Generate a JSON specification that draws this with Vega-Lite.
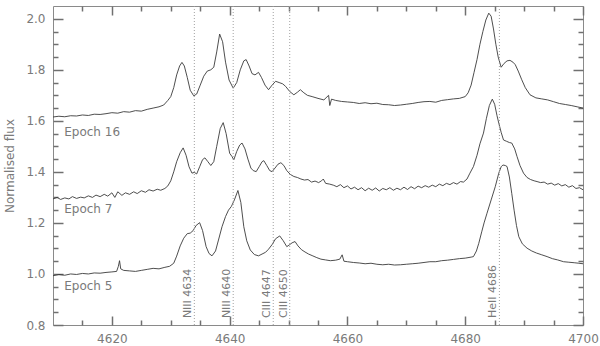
{
  "$schema": "https://vega.github.io/schema/vega-lite/v6.json",
  "width": 530,
  "height": 319,
  "autosize": {"type": "none"},
  "padding": {"left": 53, "top": 6, "right": 17, "bottom": 21},
  "background": "white",
  "config": {
    "view": {"stroke": "#8a8a8a", "strokeWidth": 1, "fill": null},
    "axis": {
      "labelColor": "#7a7a7a",
      "labelFont": "DejaVu Sans",
      "labelFontSize": 12,
      "titleFont": "DejaVu Sans",
      "titleFontSize": 12,
      "titleFontWeight": "normal",
      "titleColor": "#7a7a7a",
      "grid": false,
      "labelFlush": false
    }
  },
  "datasets": {
    "spec": [
      {"e":"16","w":4610.0,"f":1.615},{"e":"16","w":4611.0,"f":1.618},{"e":"16","w":4612.0,"f":1.616},{"e":"16","w":4613.0,"f":1.620},{"e":"16","w":4614.0,"f":1.619},{"e":"16","w":4615.0,"f":1.623},{"e":"16","w":4616.0,"f":1.621},{"e":"16","w":4617.0,"f":1.626},{"e":"16","w":4618.0,"f":1.625},{"e":"16","w":4619.0,"f":1.628},{"e":"16","w":4620.0,"f":1.632},{"e":"16","w":4621.0,"f":1.630},{"e":"16","w":4622.0,"f":1.636},{"e":"16","w":4623.0,"f":1.634},{"e":"16","w":4624.0,"f":1.640},{"e":"16","w":4625.0,"f":1.638},{"e":"16","w":4626.0,"f":1.645},{"e":"16","w":4627.0,"f":1.650},{"e":"16","w":4628.0,"f":1.655},{"e":"16","w":4628.8,"f":1.662},{"e":"16","w":4629.5,"f":1.680},{"e":"16","w":4630.0,"f":1.695},{"e":"16","w":4630.5,"f":1.730},{"e":"16","w":4631.0,"f":1.780},{"e":"16","w":4631.5,"f":1.815},{"e":"16","w":4631.9,"f":1.829},{"e":"16","w":4632.3,"f":1.815},{"e":"16","w":4632.8,"f":1.770},{"e":"16","w":4633.3,"f":1.720},{"e":"16","w":4633.9,"f":1.698},{"e":"16","w":4634.4,"f":1.705},{"e":"16","w":4635.0,"f":1.740},{"e":"16","w":4635.6,"f":1.775},{"e":"16","w":4636.2,"f":1.795},{"e":"16","w":4636.8,"f":1.800},{"e":"16","w":4637.3,"f":1.810},{"e":"16","w":4637.8,"f":1.870},{"e":"16","w":4638.3,"f":1.940},{"e":"16","w":4638.8,"f":1.910},{"e":"16","w":4639.3,"f":1.830},{"e":"16","w":4639.9,"f":1.760},{"e":"16","w":4640.6,"f":1.728},{"e":"16","w":4641.2,"f":1.750},{"e":"16","w":4641.8,"f":1.800},{"e":"16","w":4642.4,"f":1.835},{"e":"16","w":4642.8,"f":1.840},{"e":"16","w":4643.3,"f":1.815},{"e":"16","w":4643.8,"f":1.785},{"e":"16","w":4644.3,"f":1.780},{"e":"16","w":4644.9,"f":1.790},{"e":"16","w":4645.4,"f":1.770},{"e":"16","w":4646.0,"f":1.740},{"e":"16","w":4646.6,"f":1.722},{"e":"16","w":4647.2,"f":1.740},{"e":"16","w":4647.8,"f":1.755},{"e":"16","w":4648.4,"f":1.750},{"e":"16","w":4649.0,"f":1.745},{"e":"16","w":4649.5,"f":1.735},{"e":"16","w":4650.2,"f":1.715},{"e":"16","w":4650.9,"f":1.702},{"e":"16","w":4651.5,"f":1.712},{"e":"16","w":4652.0,"f":1.722},{"e":"16","w":4652.6,"f":1.710},{"e":"16","w":4653.2,"f":1.700},{"e":"16","w":4654.0,"f":1.695},{"e":"16","w":4655.0,"f":1.688},{"e":"16","w":4656.0,"f":1.682},{"e":"16","w":4656.8,"f":1.700},{"e":"16","w":4657.0,"f":1.660},{"e":"16","w":4657.3,"f":1.685},{"e":"16","w":4658.0,"f":1.680},{"e":"16","w":4659.0,"f":1.676},{"e":"16","w":4660.0,"f":1.674},{"e":"16","w":4661.0,"f":1.672},{"e":"16","w":4662.0,"f":1.668},{"e":"16","w":4663.0,"f":1.671},{"e":"16","w":4664.0,"f":1.667},{"e":"16","w":4665.0,"f":1.669},{"e":"16","w":4666.0,"f":1.664},{"e":"16","w":4667.0,"f":1.663},{"e":"16","w":4668.0,"f":1.660},{"e":"16","w":4669.0,"f":1.662},{"e":"16","w":4670.0,"f":1.665},{"e":"16","w":4671.0,"f":1.668},{"e":"16","w":4672.0,"f":1.672},{"e":"16","w":4673.0,"f":1.675},{"e":"16","w":4674.0,"f":1.676},{"e":"16","w":4675.0,"f":1.673},{"e":"16","w":4676.0,"f":1.680},{"e":"16","w":4677.0,"f":1.683},{"e":"16","w":4678.0,"f":1.686},{"e":"16","w":4679.0,"f":1.688},{"e":"16","w":4680.0,"f":1.695},{"e":"16","w":4680.5,"f":1.710},{"e":"16","w":4681.0,"f":1.740},{"e":"16","w":4681.5,"f":1.790},{"e":"16","w":4682.0,"f":1.840},{"e":"16","w":4682.5,"f":1.900},{"e":"16","w":4683.0,"f":1.950},{"e":"16","w":4683.5,"f":1.995},{"e":"16","w":4684.0,"f":2.022},{"e":"16","w":4684.4,"f":2.010},{"e":"16","w":4684.8,"f":1.960},{"e":"16","w":4685.2,"f":1.900},{"e":"16","w":4685.6,"f":1.850},{"e":"16","w":4686.1,"f":1.810},{"e":"16","w":4686.6,"f":1.825},{"e":"16","w":4687.1,"f":1.835},{"e":"16","w":4687.6,"f":1.837},{"e":"16","w":4688.1,"f":1.830},{"e":"16","w":4688.5,"f":1.820},{"e":"16","w":4689.0,"f":1.795},{"e":"16","w":4689.6,"f":1.761},{"e":"16","w":4690.2,"f":1.730},{"e":"16","w":4691.0,"f":1.702},{"e":"16","w":4692.0,"f":1.690},{"e":"16","w":4693.0,"f":1.686},{"e":"16","w":4694.0,"f":1.682},{"e":"16","w":4695.0,"f":1.675},{"e":"16","w":4696.0,"f":1.668},{"e":"16","w":4697.0,"f":1.664},{"e":"16","w":4698.0,"f":1.660},{"e":"16","w":4699.0,"f":1.655},{"e":"16","w":4700.0,"f":1.650},
      {"e":"7","w":4610.0,"f":1.294},{"e":"7","w":4610.7,"f":1.300},{"e":"7","w":4611.3,"f":1.292},{"e":"7","w":4612.0,"f":1.298},{"e":"7","w":4612.7,"f":1.294},{"e":"7","w":4613.3,"f":1.303},{"e":"7","w":4614.0,"f":1.296},{"e":"7","w":4614.7,"f":1.301},{"e":"7","w":4615.3,"f":1.298},{"e":"7","w":4616.0,"f":1.306},{"e":"7","w":4616.7,"f":1.300},{"e":"7","w":4617.3,"f":1.309},{"e":"7","w":4618.0,"f":1.303},{"e":"7","w":4618.7,"f":1.312},{"e":"7","w":4619.3,"f":1.305},{"e":"7","w":4620.0,"f":1.318},{"e":"7","w":4620.5,"f":1.300},{"e":"7","w":4621.0,"f":1.322},{"e":"7","w":4621.7,"f":1.308},{"e":"7","w":4622.3,"f":1.318},{"e":"7","w":4623.0,"f":1.312},{"e":"7","w":4623.7,"f":1.322},{"e":"7","w":4624.3,"f":1.315},{"e":"7","w":4625.0,"f":1.326},{"e":"7","w":4625.7,"f":1.320},{"e":"7","w":4626.3,"f":1.330},{"e":"7","w":4627.0,"f":1.325},{"e":"7","w":4627.7,"f":1.332},{"e":"7","w":4628.3,"f":1.328},{"e":"7","w":4629.0,"f":1.335},{"e":"7","w":4629.5,"f":1.345},{"e":"7","w":4630.0,"f":1.365},{"e":"7","w":4630.5,"f":1.400},{"e":"7","w":4631.0,"f":1.440},{"e":"7","w":4631.6,"f":1.475},{"e":"7","w":4632.1,"f":1.494},{"e":"7","w":4632.6,"f":1.465},{"e":"7","w":4633.1,"f":1.420},{"e":"7","w":4633.6,"f":1.395},{"e":"7","w":4634.0,"f":1.398},{"e":"7","w":4634.4,"f":1.392},{"e":"7","w":4634.9,"f":1.420},{"e":"7","w":4635.4,"f":1.448},{"e":"7","w":4635.8,"f":1.455},{"e":"7","w":4636.3,"f":1.440},{"e":"7","w":4636.8,"f":1.425},{"e":"7","w":4637.3,"f":1.440},{"e":"7","w":4637.8,"f":1.500},{"e":"7","w":4638.4,"f":1.570},{"e":"7","w":4638.9,"f":1.593},{"e":"7","w":4639.4,"f":1.550},{"e":"7","w":4640.0,"f":1.473},{"e":"7","w":4640.4,"f":1.460},{"e":"7","w":4640.7,"f":1.447},{"e":"7","w":4641.2,"f":1.480},{"e":"7","w":4641.7,"f":1.505},{"e":"7","w":4642.1,"f":1.513},{"e":"7","w":4642.6,"f":1.490},{"e":"7","w":4643.1,"f":1.450},{"e":"7","w":4643.6,"f":1.415},{"e":"7","w":4644.0,"f":1.405},{"e":"7","w":4644.5,"f":1.401},{"e":"7","w":4645.0,"f":1.420},{"e":"7","w":4645.5,"f":1.440},{"e":"7","w":4645.8,"f":1.444},{"e":"7","w":4646.3,"f":1.425},{"e":"7","w":4646.8,"f":1.405},{"e":"7","w":4647.2,"f":1.401},{"e":"7","w":4647.7,"f":1.415},{"e":"7","w":4648.2,"f":1.430},{"e":"7","w":4648.7,"f":1.436},{"e":"7","w":4649.2,"f":1.425},{"e":"7","w":4649.7,"f":1.405},{"e":"7","w":4650.3,"f":1.390},{"e":"7","w":4650.9,"f":1.382},{"e":"7","w":4651.5,"f":1.378},{"e":"7","w":4652.1,"f":1.372},{"e":"7","w":4652.7,"f":1.368},{"e":"7","w":4653.3,"f":1.370},{"e":"7","w":4653.9,"f":1.360},{"e":"7","w":4654.5,"f":1.364},{"e":"7","w":4655.1,"f":1.358},{"e":"7","w":4655.6,"f":1.365},{"e":"7","w":4655.9,"f":1.372},{"e":"7","w":4656.3,"f":1.355},{"e":"7","w":4657.0,"f":1.352},{"e":"7","w":4657.6,"f":1.348},{"e":"7","w":4658.2,"f":1.342},{"e":"7","w":4658.8,"f":1.350},{"e":"7","w":4659.4,"f":1.338},{"e":"7","w":4660.0,"f":1.345},{"e":"7","w":4660.6,"f":1.333},{"e":"7","w":4661.2,"f":1.340},{"e":"7","w":4661.8,"f":1.330},{"e":"7","w":4662.4,"f":1.338},{"e":"7","w":4663.0,"f":1.326},{"e":"7","w":4663.6,"f":1.336},{"e":"7","w":4664.2,"f":1.328},{"e":"7","w":4664.8,"f":1.337},{"e":"7","w":4665.4,"f":1.325},{"e":"7","w":4666.0,"f":1.335},{"e":"7","w":4666.6,"f":1.330},{"e":"7","w":4667.2,"f":1.338},{"e":"7","w":4667.8,"f":1.328},{"e":"7","w":4668.4,"f":1.336},{"e":"7","w":4669.0,"f":1.330},{"e":"7","w":4669.6,"f":1.340},{"e":"7","w":4670.2,"f":1.331},{"e":"7","w":4670.8,"f":1.342},{"e":"7","w":4671.4,"f":1.334},{"e":"7","w":4672.0,"f":1.344},{"e":"7","w":4672.6,"f":1.338},{"e":"7","w":4673.2,"f":1.346},{"e":"7","w":4673.8,"f":1.340},{"e":"7","w":4674.4,"f":1.348},{"e":"7","w":4675.0,"f":1.342},{"e":"7","w":4675.6,"f":1.352},{"e":"7","w":4676.2,"f":1.346},{"e":"7","w":4676.8,"f":1.355},{"e":"7","w":4677.4,"f":1.350},{"e":"7","w":4678.0,"f":1.358},{"e":"7","w":4678.6,"f":1.352},{"e":"7","w":4679.2,"f":1.362},{"e":"7","w":4679.7,"f":1.360},{"e":"7","w":4680.3,"f":1.372},{"e":"7","w":4680.8,"f":1.395},{"e":"7","w":4681.4,"f":1.421},{"e":"7","w":4682.0,"f":1.465},{"e":"7","w":4682.5,"f":1.510},{"e":"7","w":4683.1,"f":1.552},{"e":"7","w":4683.6,"f":1.610},{"e":"7","w":4684.1,"f":1.660},{"e":"7","w":4684.6,"f":1.685},{"e":"7","w":4685.0,"f":1.665},{"e":"7","w":4685.4,"f":1.620},{"e":"7","w":4685.7,"f":1.591},{"e":"7","w":4686.1,"f":1.555},{"e":"7","w":4686.5,"f":1.525},{"e":"7","w":4687.0,"f":1.520},{"e":"7","w":4687.5,"f":1.515},{"e":"7","w":4687.9,"f":1.513},{"e":"7","w":4688.4,"f":1.490},{"e":"7","w":4688.8,"f":1.460},{"e":"7","w":4689.3,"f":1.425},{"e":"7","w":4689.9,"f":1.395},{"e":"7","w":4690.5,"f":1.378},{"e":"7","w":4691.1,"f":1.370},{"e":"7","w":4691.7,"f":1.365},{"e":"7","w":4692.2,"f":1.362},{"e":"7","w":4692.8,"f":1.358},{"e":"7","w":4693.4,"f":1.360},{"e":"7","w":4694.0,"f":1.352},{"e":"7","w":4694.6,"f":1.356},{"e":"7","w":4695.2,"f":1.348},{"e":"7","w":4695.8,"f":1.354},{"e":"7","w":4696.4,"f":1.345},{"e":"7","w":4697.0,"f":1.350},{"e":"7","w":4697.6,"f":1.340},{"e":"7","w":4698.2,"f":1.346},{"e":"7","w":4698.8,"f":1.335},{"e":"7","w":4699.4,"f":1.338},{"e":"7","w":4700.0,"f":1.330},
      {"e":"5","w":4610.0,"f":0.993},{"e":"5","w":4611.0,"f":0.998},{"e":"5","w":4612.0,"f":0.995},{"e":"5","w":4613.0,"f":1.000},{"e":"5","w":4614.0,"f":0.998},{"e":"5","w":4615.0,"f":1.002},{"e":"5","w":4616.0,"f":1.000},{"e":"5","w":4617.0,"f":1.004},{"e":"5","w":4618.0,"f":1.003},{"e":"5","w":4619.0,"f":1.006},{"e":"5","w":4620.0,"f":1.008},{"e":"5","w":4620.8,"f":1.010},{"e":"5","w":4621.1,"f":1.030},{"e":"5","w":4621.3,"f":1.052},{"e":"5","w":4621.5,"f":1.020},{"e":"5","w":4622.0,"f":1.014},{"e":"5","w":4623.0,"f":1.012},{"e":"5","w":4624.0,"f":1.010},{"e":"5","w":4625.0,"f":1.014},{"e":"5","w":4626.0,"f":1.018},{"e":"5","w":4627.0,"f":1.022},{"e":"5","w":4628.0,"f":1.020},{"e":"5","w":4629.0,"f":1.026},{"e":"5","w":4629.8,"f":1.030},{"e":"5","w":4630.5,"f":1.042},{"e":"5","w":4631.0,"f":1.070},{"e":"5","w":4631.6,"f":1.110},{"e":"5","w":4632.2,"f":1.140},{"e":"5","w":4632.8,"f":1.158},{"e":"5","w":4633.3,"f":1.160},{"e":"5","w":4633.8,"f":1.170},{"e":"5","w":4634.3,"f":1.190},{"e":"5","w":4634.9,"f":1.201},{"e":"5","w":4635.4,"f":1.170},{"e":"5","w":4636.0,"f":1.107},{"e":"5","w":4636.5,"f":1.080},{"e":"5","w":4637.0,"f":1.071},{"e":"5","w":4637.6,"f":1.090},{"e":"5","w":4638.1,"f":1.133},{"e":"5","w":4638.7,"f":1.185},{"e":"5","w":4639.3,"f":1.225},{"e":"5","w":4639.8,"f":1.250},{"e":"5","w":4640.3,"f":1.265},{"e":"5","w":4640.8,"f":1.290},{"e":"5","w":4641.4,"f":1.327},{"e":"5","w":4641.9,"f":1.280},{"e":"5","w":4642.4,"f":1.185},{"e":"5","w":4642.9,"f":1.130},{"e":"5","w":4643.5,"f":1.094},{"e":"5","w":4644.2,"f":1.076},{"e":"5","w":4644.9,"f":1.071},{"e":"5","w":4645.5,"f":1.078},{"e":"5","w":4646.1,"f":1.085},{"e":"5","w":4646.6,"f":1.097},{"e":"5","w":4647.2,"f":1.115},{"e":"5","w":4647.8,"f":1.138},{"e":"5","w":4648.5,"f":1.149},{"e":"5","w":4649.1,"f":1.130},{"e":"5","w":4649.7,"f":1.107},{"e":"5","w":4650.2,"f":1.115},{"e":"5","w":4650.6,"f":1.122},{"e":"5","w":4651.1,"f":1.127},{"e":"5","w":4651.6,"f":1.110},{"e":"5","w":4652.2,"f":1.095},{"e":"5","w":4652.8,"f":1.086},{"e":"5","w":4653.4,"f":1.078},{"e":"5","w":4654.0,"f":1.072},{"e":"5","w":4654.8,"f":1.064},{"e":"5","w":4655.5,"f":1.058},{"e":"5","w":4656.3,"f":1.055},{"e":"5","w":4657.1,"f":1.052},{"e":"5","w":4658.0,"f":1.054},{"e":"5","w":4658.7,"f":1.058},{"e":"5","w":4659.1,"f":1.075},{"e":"5","w":4659.4,"f":1.050},{"e":"5","w":4660.0,"f":1.048},{"e":"5","w":4661.0,"f":1.045},{"e":"5","w":4662.0,"f":1.043},{"e":"5","w":4663.0,"f":1.040},{"e":"5","w":4664.0,"f":1.042},{"e":"5","w":4665.0,"f":1.038},{"e":"5","w":4666.0,"f":1.036},{"e":"5","w":4667.0,"f":1.038},{"e":"5","w":4668.0,"f":1.035},{"e":"5","w":4669.0,"f":1.036},{"e":"5","w":4670.0,"f":1.038},{"e":"5","w":4671.0,"f":1.040},{"e":"5","w":4672.0,"f":1.042},{"e":"5","w":4673.0,"f":1.045},{"e":"5","w":4674.0,"f":1.048},{"e":"5","w":4675.0,"f":1.048},{"e":"5","w":4676.0,"f":1.052},{"e":"5","w":4677.0,"f":1.054},{"e":"5","w":4678.0,"f":1.057},{"e":"5","w":4679.0,"f":1.060},{"e":"5","w":4680.0,"f":1.062},{"e":"5","w":4681.0,"f":1.066},{"e":"5","w":4681.4,"f":1.068},{"e":"5","w":4681.9,"f":1.090},{"e":"5","w":4682.3,"f":1.120},{"e":"5","w":4682.8,"f":1.165},{"e":"5","w":4683.2,"f":1.200},{"e":"5","w":4683.7,"f":1.238},{"e":"5","w":4684.4,"f":1.290},{"e":"5","w":4685.1,"f":1.342},{"e":"5","w":4685.7,"f":1.395},{"e":"5","w":4686.1,"f":1.420},{"e":"5","w":4686.4,"f":1.427},{"e":"5","w":4686.8,"f":1.425},{"e":"5","w":4687.1,"f":1.421},{"e":"5","w":4687.5,"f":1.380},{"e":"5","w":4687.9,"f":1.316},{"e":"5","w":4688.3,"f":1.250},{"e":"5","w":4688.7,"f":1.190},{"e":"5","w":4689.1,"f":1.146},{"e":"5","w":4689.7,"f":1.118},{"e":"5","w":4690.5,"f":1.101},{"e":"5","w":4691.3,"f":1.090},{"e":"5","w":4692.1,"f":1.082},{"e":"5","w":4693.0,"f":1.075},{"e":"5","w":4693.9,"f":1.068},{"e":"5","w":4694.8,"f":1.060},{"e":"5","w":4695.7,"f":1.055},{"e":"5","w":4696.7,"f":1.048},{"e":"5","w":4697.6,"f":1.046},{"e":"5","w":4698.5,"f":1.044},{"e":"5","w":4699.3,"f":1.042},{"e":"5","w":4700.0,"f":1.040}
    ],
    "lines": [
      {"n":"NIII 4634","w":4634.0,"f":0.827},
      {"n":"NIII 4640","w":4640.6,"f":0.827},
      {"n":"CIII 4647","w":4647.4,"f":0.827},
      {"n":"CIII 4650","w":4650.2,"f":0.827},
      {"n":"HeII 4686","w":4685.8,"f":0.827}
    ],
    "epochs": [
      {"t":"Epoch 16","w":4611.9,"f":1.558},
      {"t":"Epoch 7","w":4611.9,"f":1.254},
      {"t":"Epoch 5","w":4611.9,"f":0.953}
    ]
  },
  "resolve": {"axis": {"x": "independent", "y": "independent"}},
  "layer": [
    {
      "data": {"name": "spec"},
      "mark": {"type": "line", "color": "#3a3a3a", "strokeWidth": 0.9},
      "encoding": {
        "x": {"field": "w", "type": "quantitative",
              "scale": {"domain": [4610, 4700], "nice": false, "zero": false},
              "axis": {"orient": "bottom", "values": [4620, 4640, 4660, 4680, 4700], "format": "d", "offset": -9, "tickSize": 9, "tickColor": "#707070", "tickWidth": 1.5, "labelPadding": 8, "domain": false, "title": null}},
        "y": {"field": "f", "type": "quantitative",
              "scale": {"domain": [0.8, 2.05], "nice": false, "zero": false},
              "axis": {"orient": "left", "values": [0.8, 1.0, 1.2, 1.4, 1.6, 1.8, 2.0], "format": ".1f", "offset": -10, "tickSize": 10, "tickColor": "#707070", "tickWidth": 1.5, "labelPadding": 8, "domain": false, "title": "Normalised flux", "titlePadding": 9}},
        "detail": {"field": "e", "type": "nominal"}
      }
    },
    {
      "data": {"name": "lines"},
      "mark": {"type": "rule", "color": "#a0a0a0", "strokeWidth": 1, "strokeDash": [1, 2]},
      "encoding": {
        "x": {"field": "w", "type": "quantitative",
              "axis": {"orient": "top", "values": [4620, 4640, 4660, 4680, 4700], "offset": -9, "tickSize": 9, "tickColor": "#707070", "tickWidth": 1.5, "labels": false, "domain": false, "title": null}},
        "y": {"datum": 0.8, "type": "quantitative",
              "axis": {"orient": "right", "values": [0.8, 1.0, 1.2, 1.4, 1.6, 1.8, 2.0], "offset": -10, "tickSize": 10, "tickColor": "#707070", "tickWidth": 1.5, "labels": false, "domain": false, "title": null}},
        "y2": {"datum": 2.05}
      }
    },
    {
      "data": {"name": "lines"},
      "mark": {"type": "text", "angle": 270, "align": "left", "baseline": "bottom", "dy": -1, "font": "DejaVu Sans", "fontSize": 11, "color": "#7a7a7a"},
      "encoding": {
        "x": {"field": "w", "type": "quantitative",
              "axis": {"orient": "bottom", "values": [4615, 4625, 4630, 4635, 4645, 4650, 4655, 4665, 4670, 4675, 4685, 4690, 4695], "offset": -5, "tickSize": 5, "tickColor": "#707070", "tickWidth": 1.5, "labels": false, "domain": false, "title": null}},
        "y": {"field": "f", "type": "quantitative",
              "axis": {"orient": "left", "values": [0.85, 0.9, 0.95, 1.05, 1.1, 1.15, 1.25, 1.3, 1.35, 1.45, 1.5, 1.55, 1.65, 1.7, 1.75, 1.85, 1.9, 1.95], "offset": -5, "tickSize": 5, "tickColor": "#707070", "tickWidth": 1.5, "labels": false, "domain": false, "title": null}},
        "text": {"field": "n"}
      }
    },
    {
      "data": {"name": "epochs"},
      "mark": {"type": "text", "align": "left", "baseline": "middle", "font": "DejaVu Sans", "fontSize": 12, "color": "#7a7a7a"},
      "encoding": {
        "x": {"field": "w", "type": "quantitative",
              "axis": {"orient": "top", "values": [4615, 4625, 4630, 4635, 4645, 4650, 4655, 4665, 4670, 4675, 4685, 4690, 4695], "offset": -5, "tickSize": 5, "tickColor": "#707070", "tickWidth": 1.5, "labels": false, "domain": false, "title": null}},
        "y": {"field": "f", "type": "quantitative",
              "axis": {"orient": "right", "values": [0.85, 0.9, 0.95, 1.05, 1.1, 1.15, 1.25, 1.3, 1.35, 1.45, 1.5, 1.55, 1.65, 1.7, 1.75, 1.85, 1.9, 1.95], "offset": -5, "tickSize": 5, "tickColor": "#707070", "tickWidth": 1.5, "labels": false, "domain": false, "title": null}},
        "text": {"field": "t"}
      }
    }
  ]
}
